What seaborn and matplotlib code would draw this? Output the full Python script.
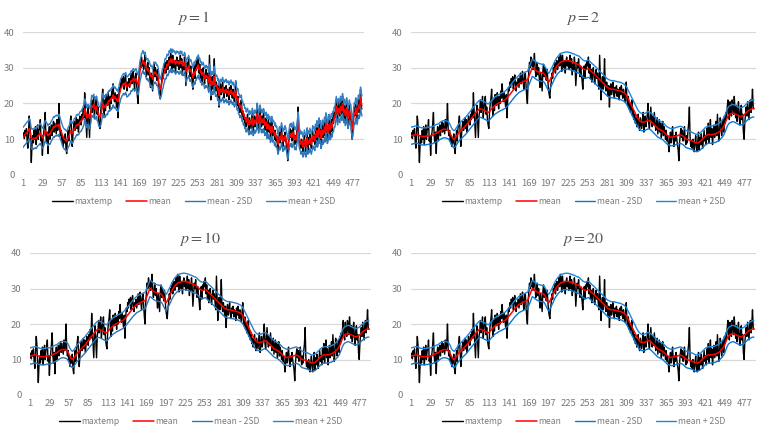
import numpy as np
import pandas as pd
import matplotlib
matplotlib.use("Agg")
import matplotlib.pyplot as plt
import seaborn as sns

# ---------------- data ----------------
maxtemp = [
    10.5, 11.8, 10.2, 12.5, 11.0, 13.0, 9.5, 7.5, 12.0, 16.5, 14.0, 9.0, 3.5, 8.5,
    11.0, 9.0, 12.5, 10.0, 13.5, 8.5, 11.5, 14.0, 10.0, 12.5, 13.0, 15.5, 9.5, 11.0,
    5.5, 10.5, 12.0, 14.5, 17.5, 11.0, 9.0, 12.0, 6.0, 11.5, 13.5, 10.0, 12.5, 14.0,
    11.0, 13.5, 15.0, 12.0, 14.5, 13.0, 11.5, 15.5, 12.5, 14.0, 20.0, 13.0, 11.0, 12.5,
    9.5, 11.0, 8.0, 10.5, 9.0, 11.5, 7.5, 6.0, 10.0, 12.5, 9.5, 13.0, 14.5, 16.5,
    12.0, 8.0, 11.0, 13.5, 15.0, 12.5, 14.0, 16.0, 13.0, 15.5, 12.0, 14.5, 16.5, 15.0,
    14.0, 17.0, 15.5, 18.5, 16.0, 23.0, 18.0, 14.5, 10.5, 17.0, 19.5, 15.0, 10.5, 16.5,
    18.0, 21.0, 17.5, 19.5, 22.0, 16.0, 18.5, 20.5, 22.0, 17.0, 19.0, 15.5, 14.0, 13.0,
    17.5, 20.0, 21.5, 24.0, 19.0, 16.5, 21.0, 18.0, 22.5, 20.5, 19.5, 23.0, 21.0, 18.5,
    22.0, 20.0, 23.5, 21.5, 25.5, 22.0, 20.5, 23.0, 21.0, 19.0, 22.5, 16.0, 21.5, 24.5,
    23.5, 26.0, 24.5, 27.0, 25.5, 27.5, 24.0, 26.5, 28.0, 25.0, 23.5, 26.0, 25.0, 27.0,
    24.5, 26.5, 28.5, 25.5, 27.0, 29.0, 26.0, 24.0, 27.5, 28.5, 25.0, 22.0, 20.0, 26.0,
    29.0, 31.5, 30.0, 33.0, 30.5, 32.0, 29.5, 31.0, 34.0, 30.0, 27.5, 29.0, 31.5, 28.0,
    30.0, 27.0, 24.5, 28.5, 26.0, 23.5, 29.0, 31.0, 27.5, 30.0, 28.0, 26.5, 29.5, 27.0,
    24.0, 22.5, 21.5, 24.5, 26.0, 28.5, 27.0, 30.0, 29.0, 31.5, 28.5, 30.5, 32.0, 29.5,
    31.0, 33.0, 30.5, 34.0, 32.5, 29.0, 33.5, 31.0, 30.0, 32.0, 28.5, 31.5, 33.0, 30.5,
    32.0, 29.5, 31.0, 33.5, 30.0, 32.5, 28.0, 31.0, 29.5, 33.0, 30.5, 25.0, 28.5, 31.5,
    30.0, 32.5, 29.0, 27.5, 30.5, 28.0, 26.5, 24.0, 28.0, 30.5, 27.0, 31.0, 29.5, 32.0,
    30.5, 33.0, 28.5, 31.0, 27.0, 29.5, 26.0, 28.5, 30.0, 27.5, 25.5, 28.0, 29.5, 27.0,
    28.5, 26.0, 24.0, 33.5, 27.0, 21.0, 25.5, 27.5, 24.0, 26.5, 32.5, 25.0, 23.5, 26.0,
    24.5, 22.0, 25.0, 19.0, 23.5, 25.5, 22.5, 24.0, 26.0, 23.0, 21.5, 24.5, 23.0, 25.0,
    22.0, 24.0, 23.5, 21.0, 24.5, 22.5, 25.0, 23.0, 21.5, 24.0, 22.0, 20.5, 23.5, 26.0,
    21.0, 19.5, 22.0, 18.5, 20.0, 17.5, 19.0, 21.0, 16.5, 18.0, 15.5, 17.0, 14.5, 16.0,
    13.5, 15.5, 17.0, 14.0, 12.5, 16.0, 14.5, 13.0, 15.5, 17.5, 12.0, 14.0, 16.5, 13.5,
    15.0, 17.0, 20.0, 14.5, 13.0, 16.0, 19.0, 15.5, 13.5, 16.5, 14.0, 17.5, 15.0, 12.5,
    14.0, 16.0, 11.5, 13.5, 15.5, 12.0, 14.5, 10.5, 13.0, 15.0, 11.0, 13.5, 12.0, 10.0,
    12.5, 9.5, 11.0, 8.5, 6.5, 10.0, 12.0, 9.0, 11.5, 13.5, 10.0, 8.0, 11.0, 9.5,
    12.0, 10.0, 8.5, 7.0, 4.0, 9.0, 11.5, 13.0, 10.5, 12.5, 9.5, 11.0, 13.5, 10.0,
    8.5, 11.0, 9.0, 12.5, 14.5, 19.0, 10.5, 8.0, 9.5, 7.5, 10.0, 8.5, 6.5, 9.0,
    11.0, 8.0, 6.5, 9.5, 12.0, 7.0, 10.5, 8.5, 11.5, 9.0, 7.5, 10.0, 12.5, 9.5,
    11.0, 8.5, 13.0, 10.0, 14.5, 9.0, 12.0, 15.5, 10.5, 13.0, 8.5, 11.5, 14.0, 10.5,
    12.5, 15.0, 11.0, 17.0, 13.5, 9.5, 12.0, 16.0, 14.5, 11.0, 13.5, 15.5, 12.0, 16.5,
    14.5, 17.5, 16.0, 19.0, 21.0, 17.0, 15.5, 20.5, 18.0, 16.5, 21.0, 19.5, 17.0, 22.0,
    18.5, 16.0, 19.5, 15.0, 17.5, 20.5, 16.5, 14.0, 18.0, 19.5, 15.5, 17.0, 12.0, 10.0,
    14.5, 17.0, 19.0, 16.5, 20.5, 18.0, 15.5, 19.5, 21.0, 17.5, 20.0, 24.0, 19.0, 18.5,
]

# fitted mean, p = 1 (follows the data closely)
mean_p1 = [
    10.5, 10.8, 11.0, 11.3, 11.5, 11.8, 12.0, 12.2, 12.5, 13.0, 12.6, 11.5, 10.2, 10.0,
    10.1, 10.0, 10.3, 10.2, 10.4, 10.2, 10.5, 10.9, 11.0, 11.2, 11.4, 11.7, 11.2, 10.8,
    10.3, 10.5, 11.0, 11.6, 12.4, 12.2, 11.8, 11.6, 11.0, 11.2, 11.6, 11.4, 11.9, 12.4,
    12.6, 13.0, 13.5, 13.3, 13.6, 13.8, 13.7, 14.0, 13.8, 13.6, 14.2, 13.5, 12.8, 12.3,
    11.6, 11.0, 10.5, 10.2, 9.9, 10.0, 9.6, 9.4, 9.8, 10.5, 10.7, 11.2, 11.8, 12.4,
    12.2, 11.6, 11.9, 12.4, 13.0, 13.1, 13.4, 14.0, 13.9, 14.2, 14.0, 14.3, 14.8, 15.0,
    15.0, 15.6, 15.8, 16.5, 16.8, 18.5, 18.0, 17.2, 16.0, 16.4, 17.0, 16.5, 15.8, 16.6,
    17.5, 19.5, 19.0, 19.2, 19.8, 18.5, 18.4, 18.8, 19.2, 18.0, 17.8, 16.9, 16.3, 16.2,
    16.5, 17.5, 18.6, 20.0, 19.6, 18.8, 19.4, 19.0, 19.8, 19.8, 19.6, 20.6, 20.8, 20.6,
    21.2, 21.0, 21.6, 21.5, 22.4, 22.0, 21.5, 21.8, 21.4, 20.9, 21.2, 20.5, 21.4, 22.6,
    23.2, 24.2, 24.4, 25.0, 25.2, 25.6, 25.2, 25.4, 25.9, 25.2, 24.6, 24.8, 24.9, 25.4,
    25.3, 25.7, 26.4, 26.2, 26.5, 27.0, 26.8, 26.2, 26.6, 27.0, 26.4, 25.6, 25.2, 26.2,
    27.8, 29.4, 30.0, 31.2, 31.4, 32.0, 31.2, 31.0, 31.6, 30.6, 29.6, 29.4, 29.8, 29.0,
    29.1, 28.4, 27.6, 27.9, 27.5, 26.8, 27.9, 28.8, 28.4, 28.8, 28.4, 27.8, 28.0, 27.2,
    25.8, 24.8, 24.0, 24.6, 25.4, 26.6, 27.0, 28.2, 28.6, 29.8, 29.6, 30.2, 31.0, 30.6,
    31.0, 32.0, 31.5, 32.5, 32.4, 31.4, 32.4, 32.0, 31.6, 31.9, 31.0, 31.3, 31.9, 31.5,
    31.7, 31.0, 31.1, 31.9, 31.3, 31.8, 30.6, 30.9, 30.6, 31.5, 31.0, 28.8, 29.0, 30.0,
    29.9, 30.6, 29.8, 29.0, 29.5, 28.9, 28.2, 27.2, 27.8, 28.8, 28.2, 29.3, 29.3, 30.2,
    30.0, 30.8, 29.6, 29.9, 28.8, 29.0, 27.9, 28.2, 28.7, 28.0, 27.0, 27.4, 27.9, 27.3,
    27.6, 26.8, 25.9, 28.2, 27.2, 25.0, 25.4, 26.2, 25.3, 25.8, 27.6, 25.8, 24.8, 25.2,
    24.8, 23.6, 24.2, 22.2, 23.2, 24.0, 23.3, 23.7, 24.5, 23.7, 23.0, 23.7, 23.4, 24.0,
    23.0, 23.5, 23.5, 22.4, 23.4, 22.9, 23.8, 23.2, 22.5, 23.2, 22.5, 21.8, 22.6, 23.6,
    21.9, 21.0, 21.4, 19.9, 19.8, 18.8, 18.9, 19.6, 17.8, 17.9, 16.8, 17.0, 15.8, 16.0,
    14.8, 15.2, 15.9, 14.8, 14.0, 15.2, 14.8, 14.2, 14.9, 15.9, 13.8, 14.2, 15.4, 14.5,
    14.8, 15.8, 17.3, 15.6, 14.5, 15.4, 16.8, 15.8, 14.6, 15.5, 14.6, 15.8, 15.2, 13.8,
    14.0, 14.8, 13.0, 13.3, 14.2, 12.9, 13.6, 11.9, 12.6, 13.6, 12.0, 12.6, 12.2, 11.0,
    11.8, 10.6, 10.9, 9.7, 8.6, 9.5, 10.7, 9.8, 10.6, 11.8, 10.8, 9.4, 10.3, 9.8,
    11.0, 10.5, 9.6, 8.6, 7.2, 8.4, 10.0, 11.4, 10.9, 11.7, 10.5, 10.8, 12.0, 11.0,
    9.9, 10.6, 9.8, 11.2, 12.6, 14.8, 12.2, 10.0, 9.7, 8.6, 9.4, 8.9, 7.8, 8.6,
    9.8, 8.8, 7.8, 8.8, 10.4, 8.6, 9.6, 9.0, 10.3, 9.5, 8.6, 9.5, 11.0, 10.1,
    10.6, 9.6, 11.4, 10.6, 12.4, 10.6, 11.4, 13.2, 11.6, 12.4, 10.2, 11.0, 12.6, 11.4,
    11.9, 13.4, 12.0, 14.6, 13.8, 11.6, 11.9, 14.0, 14.2, 12.6, 13.0, 14.4, 13.4, 15.0,
    14.9, 16.2, 16.2, 17.6, 19.2, 18.0, 16.8, 18.6, 18.3, 17.4, 19.2, 19.2, 18.0, 20.0,
    19.0, 17.4, 18.4, 16.6, 17.0, 18.8, 17.6, 15.8, 16.9, 18.2, 16.8, 16.9, 14.6, 12.8,
    13.8, 15.6, 17.4, 17.0, 18.8, 18.4, 16.9, 18.2, 19.6, 18.6, 19.3, 21.8, 20.3, 19.3,
]

# fitted mean, p = 2 / 10 / 20 (smooth)
mean_smooth = [
    11.0, 11.0, 11.1, 11.1, 11.2, 11.2, 11.3, 11.3, 11.3, 11.3, 11.2, 11.1, 11.0, 10.9,
    10.9, 10.8, 10.8, 10.8, 10.8, 10.8, 10.8, 10.8, 10.9, 10.9, 10.9, 11.0, 11.0, 11.0,
    11.0, 11.0, 11.1, 11.2, 11.3, 11.4, 11.5, 11.6, 11.7, 11.8, 11.8, 11.9, 12.1, 12.3,
    12.4, 12.5, 12.6, 12.7, 12.8, 12.8, 12.8, 12.8, 12.7, 12.7, 12.6, 12.5, 12.3, 12.0,
    11.6, 11.1, 10.7, 10.4, 10.2, 10.0, 10.1, 10.3, 10.6, 10.9, 11.2, 11.5, 11.8, 12.0,
    12.2, 12.4, 12.6, 12.8, 13.0, 13.2, 13.4, 13.6, 13.8, 14.0, 14.3, 14.5, 14.8, 15.0,
    15.3, 15.5, 15.8, 16.0, 16.3, 16.5, 16.8, 17.0, 17.3, 17.5, 17.8, 18.0, 18.2, 18.4,
    18.5, 18.5, 18.5, 18.4, 18.3, 18.2, 18.1, 18.0, 17.9, 17.8, 17.7, 17.6, 17.5, 17.6,
    17.8, 18.0, 18.3, 18.5, 18.7, 18.9, 19.1, 19.3, 19.5, 19.6, 19.7, 19.8, 20.0, 20.1,
    20.2, 20.3, 20.4, 20.5, 20.6, 20.7, 20.8, 20.9, 21.0, 21.2, 21.4, 21.6, 21.8, 22.0,
    22.3, 22.5, 22.8, 23.0, 23.3, 23.5, 23.8, 24.0, 24.3, 24.5, 24.7, 24.9, 25.1, 25.3,
    25.5, 25.6, 25.7, 25.8, 25.9, 26.0, 26.1, 26.2, 26.3, 26.4, 26.5, 26.5, 26.6, 27.0,
    27.5, 28.0, 28.5, 29.0, 29.5, 30.0, 29.9, 29.8, 29.6, 29.4, 29.3, 29.1, 29.0, 28.9,
    28.8, 28.8, 28.7, 28.7, 28.6, 28.6, 28.5, 28.5, 28.3, 28.0, 27.6, 27.2, 26.8, 26.4,
    26.0, 26.2, 26.5, 26.9, 27.3, 27.7, 28.1, 28.5, 29.0, 29.4, 29.8, 30.1, 30.4, 30.7,
    30.9, 31.1, 31.3, 31.5, 31.6, 31.7, 31.8, 31.8, 31.9, 31.9, 32.0, 32.0, 32.0, 32.0,
    32.0, 31.9, 31.9, 31.8, 31.8, 31.7, 31.6, 31.5, 31.5, 31.4, 31.3, 31.2, 31.1, 31.0,
    31.0, 30.9, 30.8, 30.6, 30.4, 30.2, 30.0, 29.8, 29.7, 29.6, 29.5, 29.5, 29.5, 29.6,
    29.7, 29.7, 29.6, 29.4, 29.2, 29.0, 28.8, 28.6, 28.5, 28.3, 28.1, 27.9, 27.7, 27.5,
    27.3, 27.1, 26.9, 26.7, 26.5, 26.3, 26.1, 25.9, 25.7, 25.5, 25.3, 25.1, 24.9, 24.7,
    24.5, 24.4, 24.3, 24.2, 24.1, 24.0, 24.0, 24.0, 24.0, 24.0, 23.9, 23.9, 23.8, 23.8,
    23.7, 23.7, 23.6, 23.6, 23.5, 23.5, 23.4, 23.3, 23.2, 23.1, 23.0, 22.8, 22.6, 22.3,
    22.0, 21.6, 21.2, 20.8, 20.4, 20.0, 19.6, 19.2, 18.8, 18.4, 18.0, 17.6, 17.2, 16.8,
    16.4, 16.0, 15.7, 15.4, 15.2, 15.0, 14.9, 14.8, 14.8, 14.8, 14.8, 14.8, 14.9, 15.0,
    15.1, 15.2, 15.3, 15.3, 15.2, 15.1, 15.0, 14.8, 14.6, 14.4, 14.2, 14.0, 13.8, 13.6,
    13.4, 13.2, 13.0, 12.9, 12.8, 12.7, 12.6, 12.5, 12.4, 12.3, 12.1, 11.9, 11.7, 11.5,
    11.3, 11.1, 11.0, 10.9, 10.8, 10.7, 10.6, 10.6, 10.6, 10.6, 10.7, 10.7, 10.8, 10.8,
    10.9, 11.0, 11.0, 11.1, 11.1, 11.2, 11.2, 11.2, 11.1, 11.0, 10.9, 10.7, 10.5, 10.3,
    10.1, 10.0, 9.9, 9.9, 9.8, 9.8, 9.7, 9.7, 9.6, 9.5, 9.4, 9.3, 9.2, 9.1,
    9.0, 9.0, 9.0, 9.0, 9.1, 9.2, 9.3, 9.5, 9.7, 9.9, 10.1, 10.3, 10.5, 10.7,
    10.9, 11.0, 11.1, 11.2, 11.3, 11.3, 11.3, 11.3, 11.3, 11.3, 11.3, 11.4, 11.4, 11.5,
    11.5, 11.6, 11.7, 11.8, 11.9, 12.0, 12.2, 12.4, 12.6, 12.8, 13.0, 13.3, 13.6, 14.0,
    14.5, 15.0, 15.5, 16.0, 16.4, 16.7, 16.9, 17.0, 17.1, 17.2, 17.3, 17.3, 17.3, 17.2,
    17.1, 17.0, 16.9, 16.8, 16.7, 16.6, 16.5, 16.4, 16.4, 16.4, 16.5, 16.6, 16.7, 16.8,
    17.0, 17.2, 17.4, 17.6, 17.8, 18.0, 18.1, 18.2, 18.3, 18.4, 18.5, 18.6, 18.6, 18.6,
]

panel_titles = ["$p = 1$", "$p = 2$", "$p = 10$", "$p = 20$"]
two_sd = [2.8, 2.4, 2.3, 2.3]          # half-width of the ±2SD band per panel
series_names = ["maxtemp", "mean", "mean - 2SD", "mean + 2SD"]
tick_labels = [1, 29, 57, 85, 113, 141, 169, 197, 225, 253, 281, 309, 337, 365, 393, 421, 449, 477]
y_ticks = [0, 10, 20, 30, 40]

# ---------------- styling ----------------
sns.set_theme(style="white")
plt.rcParams["font.family"] = ["Noto Sans CJK KR", "DejaVu Sans"]
plt.rcParams["mathtext.fontset"] = "stix"

W, H = 763, 436
fig = plt.figure(figsize=(W / 100, H / 100), dpi=100)

# axes rectangles in pixels: (left, top, right, bottom)
rects = [(23, 32, 364, 175), (411, 32, 756, 175),
         (30, 253, 371, 395), (411, 253, 756, 395)]
band_colors = [("#2E75B6", "#3580C4"), ("#0A78D6", "#1A86E0"),
               ("#2E75B6", "#3580C4"), ("#0A78D6", "#1A86E0")]
text_gray = "#7A7A7A"

N = len(maxtemp)
idx = np.arange(1, N + 1)

for k in range(4):
    l, t, r, b = rects[k]
    ax = fig.add_axes([l / W, 1 - b / H, (r - l) / W, (b - t) / H])
    m = np.array(mean_p1 if k == 0 else mean_smooth)
    df = pd.DataFrame({
        "idx": idx,
        series_names[0]: maxtemp,
        series_names[1]: m,
        series_names[2]: m - two_sd[k],
        series_names[3]: m + two_sd[k],
    })
    styles = [("black", 1.0), ("#FF0000", 1.1),
              (band_colors[k][0], 1.0), (band_colors[k][1], 1.0)]
    for name, (c, lw) in zip(series_names, styles):
        sns.lineplot(data=df, x="idx", y=name, color=c, linewidth=lw,
                     label=name, ax=ax, estimator=None)

    ax.set_xlim(1, 493)
    ax.set_ylim(0, 40)
    ax.set_yticks(y_ticks)
    ax.set_xticks(tick_labels)
    ax.set_xticklabels([str(v) for v in tick_labels])
    ax.set_xlabel("")
    ax.set_ylabel("")
    for s in ax.spines.values():
        s.set_visible(False)
    ax.yaxis.grid(True, color="#D9D9D9", linewidth=0.9)
    ax.xaxis.grid(False)
    ax.set_axisbelow(True)
    ax.tick_params(axis="both", length=0, labelsize=6.8, colors=text_gray)
    ax.tick_params(axis="y", pad=6)
    ax.tick_params(axis="x", pad=3)
    ax.set_title(panel_titles[k], fontsize=11.5, color="#595959", pad=7)
    ax.legend(loc="upper center", bbox_to_anchor=(0.5, -0.10), ncol=4,
              frameon=False, fontsize=6.2, handlelength=2.4, handletextpad=0.15,
              columnspacing=1.6, labelcolor=text_gray)

fig.savefig("out.png", dpi=100)
